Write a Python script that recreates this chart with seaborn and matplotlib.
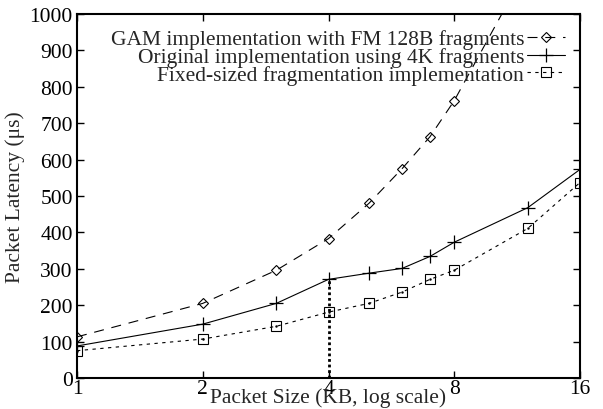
import matplotlib
matplotlib.use("Agg")
import matplotlib.pyplot as plt
import seaborn as sns
import pandas as pd

# Packet sizes (KB) and measured latencies (microseconds)
sizes = [1, 2, 3, 4, 5, 6, 7, 8, 12, 16]
gam_sizes = [1, 2, 3, 4, 5, 6, 7, 8, 12]
gam_latency = [113, 205, 296, 383, 480, 575, 663, 762, 1130]
orig_latency = [88, 148, 205, 271, 288, 301, 334, 373, 468, 573]
fixed_latency = [75, 107, 142, 181, 205, 236, 271, 296, 411, 537]

series_names = [
    "GAM implementation with FM 128B fragments",
    "Original implementation using 4K fragments",
    "Fixed-sized fragmentation implementation",
]
x_ticks = [1, 2, 4, 8, 16]
y_ticks = list(range(0, 1001, 100))

sns.set_style("ticks")
plt.rcParams["font.family"] = ["Liberation Serif", "DejaVu Serif"]

fig = plt.figure(figsize=(6.03, 4.10), dpi=100)
ax = fig.add_axes([77 / 603, 1 - 379 / 410, 503 / 603, 364 / 410])

gam = pd.DataFrame({"size": gam_sizes, "latency": gam_latency})
orig = pd.DataFrame({"size": sizes, "latency": orig_latency})
fixed = pd.DataFrame({"size": sizes, "latency": fixed_latency})

sns.lineplot(data=gam, x="size", y="latency", ax=ax, color="black",
             linewidth=0.8, linestyle=(0, (9, 7)), marker="D",
             markersize=5, markerfacecolor="none", markeredgecolor="black",
             markeredgewidth=0.8, label=series_names[0])
sns.lineplot(data=orig, x="size", y="latency", ax=ax, color="black",
             linewidth=0.8, linestyle="-", marker="+",
             markersize=10, markeredgecolor="black", markeredgewidth=0.9,
             label=series_names[1])
sns.lineplot(data=fixed, x="size", y="latency", ax=ax, color="black",
             linewidth=0.8, linestyle=(0, (3, 4)), marker="s",
             markersize=7, markerfacecolor="none", markeredgecolor="black",
             markeredgewidth=0.8, label=series_names[2])

# Small dots inside the square markers
ax.plot(sizes, fixed_latency, linestyle="none", marker=".", markersize=1.5,
        color="black")

# Reference line at the 4 KB fragment size
ax.plot([4, 4], [0, orig_latency[sizes.index(4)]], color="black",
        linestyle=(0, (1.0, 1.0)), linewidth=2)

ax.set_xscale("log", base=2)
ax.set_xlim(1, 16)
ax.set_ylim(0, 1000)
ax.set_xticks(x_ticks)
ax.set_xticklabels([str(t) for t in x_ticks])
ax.minorticks_off()
ax.set_yticks(y_ticks)

ax.tick_params(direction="in", length=5, width=1, top=True, right=True,
               labelsize=15.5, colors="black")
ax.tick_params(axis="x", pad=1)
ax.tick_params(axis="y", pad=3)
for spine in ax.spines.values():
    spine.set_linewidth(1.5)
    spine.set_color("black")

ax.set_xlabel("Packet Size (KB, log scale)", fontsize=15.5, labelpad=-8)
ax.set_ylabel("Packet Latency (μs)", fontsize=15.5, labelpad=3)

leg = ax.legend(loc="upper right", frameon=False, markerfirst=False,
                fontsize=15.5, handlelength=1.75, handletextpad=0.15,
                labelspacing=-0.1, borderaxespad=0.4, borderpad=0.3,
                numpoints=1)

fig.savefig("out.png", dpi=100)
